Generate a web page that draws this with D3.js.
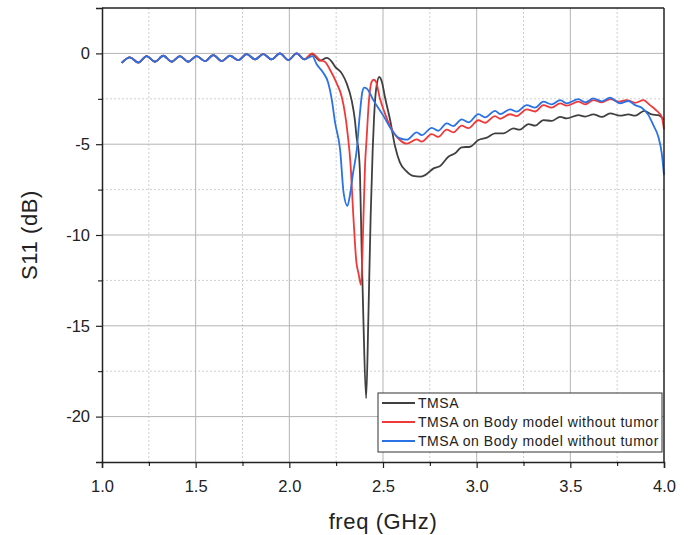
<!DOCTYPE html>
<html>
<head>
<meta charset="utf-8">
<script src="https://cdn.jsdelivr.net/npm/d3@7"></script>
<style>
  body { margin: 0; background: #fff; }
  text { font-family: "Liberation Sans", Arial, sans-serif; fill: #222; }
</style>
</head>
<body>
<script>
(function() {
    'use strict';

    // ripple shared by all three curves below ~2.08 GHz
    var flatFreq = [1.105, 1.149, 1.194, 1.238, 1.283, 1.327, 1.372, 1.416, 1.460, 1.505,
        1.550, 1.594, 1.640, 1.683, 1.728, 1.772, 1.817, 1.861, 1.905, 1.950, 1.995, 2.039, 2.080];
    var flatS11 = [-0.52, -0.22, -0.51, -0.15, -0.46, -0.13, -0.46, -0.15, -0.46, -0.15,
        -0.42, -0.09, -0.42, -0.13, -0.37, -0.04, -0.33, -0.04, -0.33, 0.0, -0.37, 0.0, -0.33];

    // TMSA
    var tmsaFreq = [2.122, 2.164, 2.200, 2.226, 2.244, 2.280, 2.306, 2.333, 2.350, 2.360, 2.369,
        2.377, 2.386, 2.395, 2.410, 2.422, 2.434, 2.445, 2.452, 2.463, 2.480, 2.495, 2.510, 2.538,
        2.564, 2.590, 2.626, 2.660, 2.698, 2.725, 2.770, 2.805, 2.849, 2.885, 2.920, 2.965, 3.009,
        3.054, 3.098, 3.143, 3.196, 3.230, 3.276, 3.312, 3.356, 3.400, 3.446, 3.480, 3.543, 3.579,
        3.623, 3.668, 3.712, 3.765, 3.810, 3.846, 3.895, 3.934, 3.970, 4.000];
    var tmsaS11 = [-0.04, -0.40, -0.25, -0.45, -0.73, -1.10, -1.65, -2.60, -3.67, -4.70, -5.30,
        -6.60, -10.8, -14.5, -19.0, -14.5, -9.0, -5.3, -3.6, -2.0, -1.3, -1.6, -2.39, -3.67,
        -5.10, -6.00, -6.50, -6.75, -6.79, -6.70, -6.33, -6.20, -5.69, -5.50, -5.17, -5.14, -4.77,
        -4.64, -4.40, -4.40, -4.13, -4.20, -3.89, -3.98, -3.67, -3.72, -3.49, -3.58, -3.40, -3.48,
        -3.36, -3.50, -3.30, -3.43, -3.36, -3.43, -3.17, -3.36, -3.40, -3.65];

    // TMSA on body model (red)
    var bodyFreq = [2.122, 2.164, 2.190, 2.217, 2.253, 2.280, 2.297, 2.312, 2.326, 2.342, 2.358,
        2.369, 2.383, 2.393, 2.404, 2.413, 2.425, 2.438, 2.450, 2.462, 2.484, 2.510, 2.538, 2.590,
        2.627, 2.680, 2.707, 2.760, 2.795, 2.840, 2.876, 2.920, 2.956, 3.009, 3.045, 3.098, 3.125,
        3.178, 3.214, 3.267, 3.312, 3.356, 3.400, 3.446, 3.480, 3.543, 3.579, 3.623, 3.668, 3.712,
        3.760, 3.800, 3.846, 3.890, 3.925, 3.960, 3.988, 4.000];
    var bodyS11 = [0.0, -0.37, -0.46, -0.90, -1.65, -2.40, -3.30, -4.50, -6.00, -9.00, -11.5,
        -12.1, -12.75, -10.0, -6.2, -4.6, -2.6, -1.6, -1.45, -1.55, -2.50, -3.30, -4.00, -4.77,
        -4.97, -4.73, -4.86, -4.45, -4.60, -4.20, -4.35, -3.98, -4.12, -3.68, -3.82, -3.45, -3.60,
        -3.35, -3.45, -3.08, -3.20, -2.85, -2.99, -2.75, -2.88, -2.66, -2.81, -2.57, -2.70, -2.52,
        -2.66, -2.57, -2.72, -2.57, -2.85, -3.15, -3.50, -4.20];

    // TMSA on body model (blue)
    var body2Freq = [2.123, 2.146, 2.180, 2.207, 2.226, 2.244, 2.271, 2.290, 2.310, 2.325, 2.340,
        2.360, 2.375, 2.390, 2.400, 2.415, 2.450, 2.500, 2.555, 2.585, 2.627, 2.680, 2.707, 2.760,
        2.795, 2.840, 2.876, 2.920, 2.956, 3.009, 3.045, 3.098, 3.125, 3.178, 3.214, 3.267, 3.312,
        3.356, 3.400, 3.446, 3.480, 3.543, 3.579, 3.623, 3.668, 3.712, 3.765, 3.810, 3.846, 3.881,
        3.917, 3.943, 3.970, 3.988, 4.000];
    var body2S11 = [-0.15, -0.60, -1.05, -1.60, -2.50, -3.80, -5.30, -7.70, -8.40, -7.70, -6.60,
        -5.30, -3.50, -2.10, -1.88, -1.95, -2.60, -3.40, -4.35, -4.65, -4.75, -4.35, -4.50, -4.10,
        -4.26, -3.85, -4.00, -3.63, -3.80, -3.34, -3.52, -3.16, -3.34, -3.08, -3.21, -2.85, -2.99,
        -2.66, -2.81, -2.57, -2.75, -2.52, -2.70, -2.48, -2.64, -2.44, -2.75, -2.62, -2.85, -2.99,
        -3.40, -3.95, -4.60, -5.50, -6.70];

    var seriesNames = ['TMSA', 'TMSA on Body model without tumor', 'TMSA on Body model without tumor'];
    var seriesColors = ['#404040', '#f03a3a', '#2a72e6'];

    var xTicks = [1.0, 1.5, 2.0, 2.5, 3.0, 3.5, 4.0];
    var xMinor = [1.25, 1.75, 2.25, 2.75, 3.25, 3.75];
    var yTicks = [0, -5, -10, -15, -20];
    var yMinor = [-2.5, -7.5, -12.5, -17.5];

    function pairs(f, v) {
        return f.map(function(d, i) { return [d, v[i]]; });
    }
    var series = [
        pairs(flatFreq.concat(tmsaFreq), flatS11.concat(tmsaS11)),
        pairs(flatFreq.concat(bodyFreq), flatS11.concat(bodyS11)),
        pairs(flatFreq.concat(body2Freq), flatS11.concat(body2S11))
    ];

    var margin = { left: 102, top: 8, right: 29, bottom: 73 };
    var width = 693 - margin.left - margin.right;
    var height = 535 - margin.top - margin.bottom;

    var svg = d3.select('body').append('svg')
        .attr('width', 693)
        .attr('height', 535);

    var g = svg.append('g')
        .attr('transform', 'translate(' + margin.left + ',' + margin.top + ')');

    var x = d3.scaleLinear().domain([1.0, 4.0]).range([0, width]);
    var y = d3.scaleLinear().domain([-22.5, 2.5]).range([height, 0]);

    // grid
    g.selectAll('.vminor').data(xMinor).enter().append('line')
        .attr('x1', x).attr('x2', x).attr('y1', 0).attr('y2', height)
        .attr('stroke', '#cfcfcf').attr('stroke-dasharray', '2,2');
    g.selectAll('.hminor').data(yMinor).enter().append('line')
        .attr('y1', y).attr('y2', y).attr('x1', 0).attr('x2', width)
        .attr('stroke', '#cfcfcf').attr('stroke-dasharray', '2,2');
    g.selectAll('.vmajor').data(xTicks.slice(1, -1)).enter().append('line')
        .attr('x1', x).attr('x2', x).attr('y1', 0).attr('y2', height)
        .attr('stroke', '#b4b4b4');
    g.selectAll('.hmajor').data(yTicks).enter().append('line')
        .attr('y1', y).attr('y2', y).attr('x1', 0).attr('x2', width)
        .attr('stroke', '#b4b4b4');

    // curves
    var line = d3.line()
        .x(function(d) { return x(d[0]); })
        .y(function(d) { return y(d[1]); })
        .curve(d3.curveMonotoneX);

    series.forEach(function(s, i) {
        g.append('path')
            .datum(s)
            .attr('fill', 'none')
            .attr('stroke', seriesColors[i])
            .attr('stroke-width', 1.8)
            .attr('stroke-linejoin', 'round')
            .attr('d', line);
    });

    // frame
    g.append('line').attr('x1', 0).attr('x2', width).attr('y1', 0).attr('y2', 0)
        .attr('stroke', '#222').attr('stroke-width', 1.5);
    g.append('line').attr('x1', width).attr('x2', width).attr('y1', 0).attr('y2', height)
        .attr('stroke', '#222').attr('stroke-width', 1.5);

    // axes
    var xAxis = g.append('g')
        .attr('transform', 'translate(0,' + height + ')')
        .call(d3.axisBottom(x).tickValues(xTicks).tickSize(6).tickPadding(12)
            .tickFormat(d3.format('.1f')));
    g.append('g')
        .attr('transform', 'translate(0,' + height + ')')
        .call(d3.axisBottom(x).tickValues(xMinor).tickSize(4).tickFormat(''))
        .select('.domain').remove();

    var yAxis = g.append('g')
        .call(d3.axisLeft(y).tickValues(yTicks).tickSize(6).tickPadding(6)
            .tickFormat(function(d) { return String(d); }));
    g.append('g')
        .call(d3.axisLeft(y).tickValues(yMinor).tickSize(4).tickFormat(''))
        .select('.domain').remove();

    [xAxis, yAxis].forEach(function(a) {
        a.select('.domain').attr('stroke', '#222').attr('stroke-width', 1.5);
        a.selectAll('.tick line').attr('stroke', '#222').attr('stroke-width', 1.2);
        a.selectAll('.tick text')
            .style('font-family', '"Liberation Sans", Arial, sans-serif')
            .style('font-size', '16.5px')
            .attr('fill', '#222');
    });

    // titles
    svg.append('text')
        .attr('x', margin.left + width / 2)
        .attr('y', 529)
        .attr('text-anchor', 'middle')
        .style('font-size', '22px')
        .style('letter-spacing', '0.6px')
        .text('freq (GHz)');

    svg.append('text')
        .attr('transform', 'translate(37,' + (margin.top + y(-10)) + ') rotate(-90)')
        .attr('text-anchor', 'middle')
        .style('font-size', '22px')
        .style('letter-spacing', '0.6px')
        .text('S11 (dB)');

    // legend
    var legend = svg.append('g').attr('transform', 'translate(378,393)');
    legend.append('rect')
        .attr('width', 284).attr('height', 59)
        .attr('fill', '#fff').attr('stroke', '#333').attr('stroke-width', 1);
    seriesNames.forEach(function(name, i) {
        var row = legend.append('g').attr('transform', 'translate(0,' + (10 + i * 19) + ')');
        row.append('line')
            .attr('x1', 4).attr('x2', 37)
            .attr('stroke', seriesColors[i]).attr('stroke-width', 1.8);
        row.append('text')
            .attr('x', 40).attr('dy', '0.36em')
            .style('font-size', '14px')
            .style('letter-spacing', '0.55px')
            .text(name);
    });
}());
</script>
</body>
</html>
